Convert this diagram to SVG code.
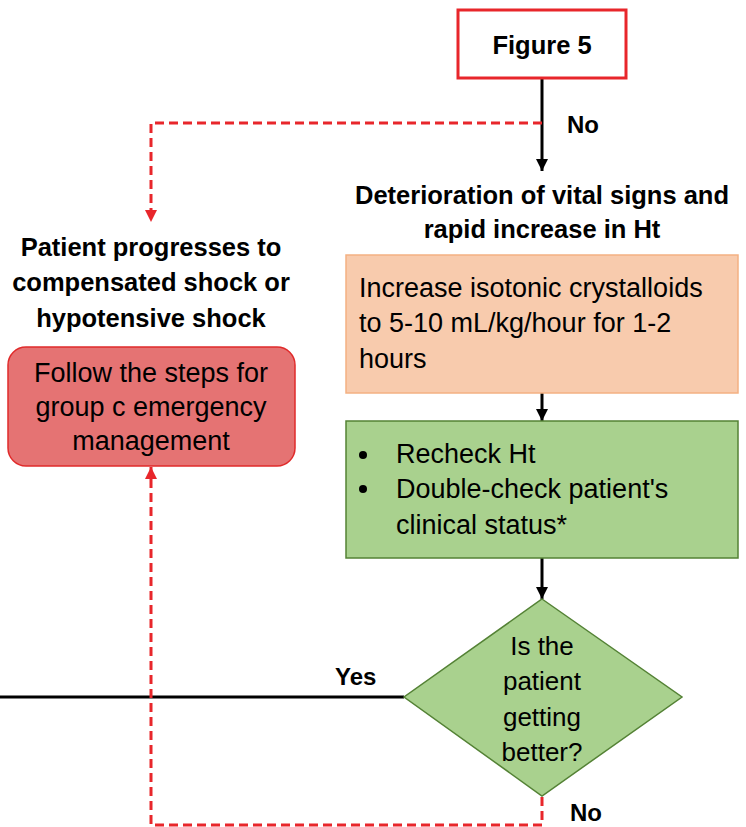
<svg xmlns="http://www.w3.org/2000/svg" width="746" height="827" viewBox="0 0 746 827">
  <style>
    .hd { font-family: "Liberation Sans", Arial, sans-serif; font-weight: bold; font-size: 25.5px; fill: #000; }
    .lb { font-family: "Liberation Sans", Arial, sans-serif; font-weight: bold; font-size: 24px; fill: #000; }
    .tx { font-family: "Liberation Sans", Arial, sans-serif; font-size: 27px; fill: #000; }
    .dq { font-family: "Liberation Sans", Arial, sans-serif; font-size: 26px; fill: #000; }
    .solid { stroke: #000; stroke-width: 3; fill: none; }
    .dash { stroke: #e8262b; stroke-width: 3; fill: none; stroke-dasharray: 9 5; }
  </style>
  <defs>
    <marker id="arrBlack" viewBox="0 0 10 10" refX="10" refY="5" markerWidth="4" markerHeight="4" orient="auto" markerUnits="strokeWidth">
      <path d="M0,0 L10,5 L0,10 Z" fill="#000"/>
    </marker>
    <marker id="arrRed" viewBox="0 0 10 10" refX="10" refY="5" markerWidth="4" markerHeight="4" orient="auto" markerUnits="strokeWidth">
      <path d="M0,0 L10,5 L0,10 Z" fill="#e8262b"/>
    </marker>
  </defs>

  <!-- connectors -->
  <g id="connectors">
    <path class="solid" d="M542,79 L542,171" marker-end="url(#arrBlack)"/>
    <path class="dash" d="M542,123 L151,123 L151,222" marker-end="url(#arrRed)"/>
    <path class="solid" d="M542,393 L542,421" marker-end="url(#arrBlack)"/>
    <path class="solid" d="M542,558 L542,599" marker-end="url(#arrBlack)"/>
    <path class="solid" d="M404,697 L0,697"/>
    <path class="dash" d="M542,797 L542,825 L151,825 L151,467" marker-end="url(#arrRed)"/>
    <text class="lb" x="567" y="133">No</text>
    <text class="lb" x="335" y="685">Yes</text>
    <text class="lb" x="570" y="821">No</text>
  </g>

  <g id="figure5">
    <rect x="458" y="10" width="168" height="68" fill="#fff" stroke="#e8262b" stroke-width="3"/>
    <text class="hd" x="542" y="54" text-anchor="middle">Figure 5</text>
  </g>

  <g id="deterioration">
    <text class="hd" x="542" y="204" text-anchor="middle">Deterioration of vital signs and</text>
    <text class="hd" x="542" y="238" text-anchor="middle">rapid increase in Ht</text>
  </g>

  <g id="progresses">
    <text class="hd" x="151" y="256" text-anchor="middle">Patient progresses to</text>
    <text class="hd" x="151" y="291" text-anchor="middle">compensated shock or</text>
    <text class="hd" x="151" y="327" text-anchor="middle">hypotensive shock</text>
  </g>

  <g id="groupC">
    <rect x="8" y="347" width="287" height="119" rx="18" ry="18" fill="#e57373" stroke="#e02b2b" stroke-width="1.5"/>
    <text class="tx" x="151" y="382" text-anchor="middle">Follow the steps for</text>
    <text class="tx" x="151" y="416" text-anchor="middle">group c emergency</text>
    <text class="tx" x="151" y="450" text-anchor="middle">management</text>
  </g>

  <g id="crystalloids">
    <rect x="346" y="255" width="392" height="138" fill="#f8cbad" stroke="#f4b183" stroke-width="1.5"/>
    <text class="tx" x="359" y="297">Increase isotonic crystalloids</text>
    <text class="tx" x="359" y="332">to 5-10 mL/kg/hour for 1-2</text>
    <text class="tx" x="359" y="368">hours</text>
  </g>

  <g id="recheck">
    <rect x="346" y="421" width="392" height="137" fill="#a9d18e" stroke="#548235" stroke-width="1.5"/>
    <circle cx="363" cy="455" r="4" fill="#000"/>
    <circle cx="363" cy="489" r="4" fill="#000"/>
    <text class="tx" x="396" y="463">Recheck Ht</text>
    <text class="tx" x="396" y="498">Double-check patient's</text>
    <text class="tx" x="396" y="534">clinical status*</text>
  </g>

  <g id="better">
    <polygon points="542,599 682,697 542,796 404,697" fill="#a9d18e" stroke="#548235" stroke-width="1.5"/>
    <text class="dq" x="542" y="655" text-anchor="middle">Is the</text>
    <text class="dq" x="542" y="690" text-anchor="middle">patient</text>
    <text class="dq" x="542" y="726" text-anchor="middle">getting</text>
    <text class="dq" x="542" y="761" text-anchor="middle">better?</text>
  </g>
</svg>
